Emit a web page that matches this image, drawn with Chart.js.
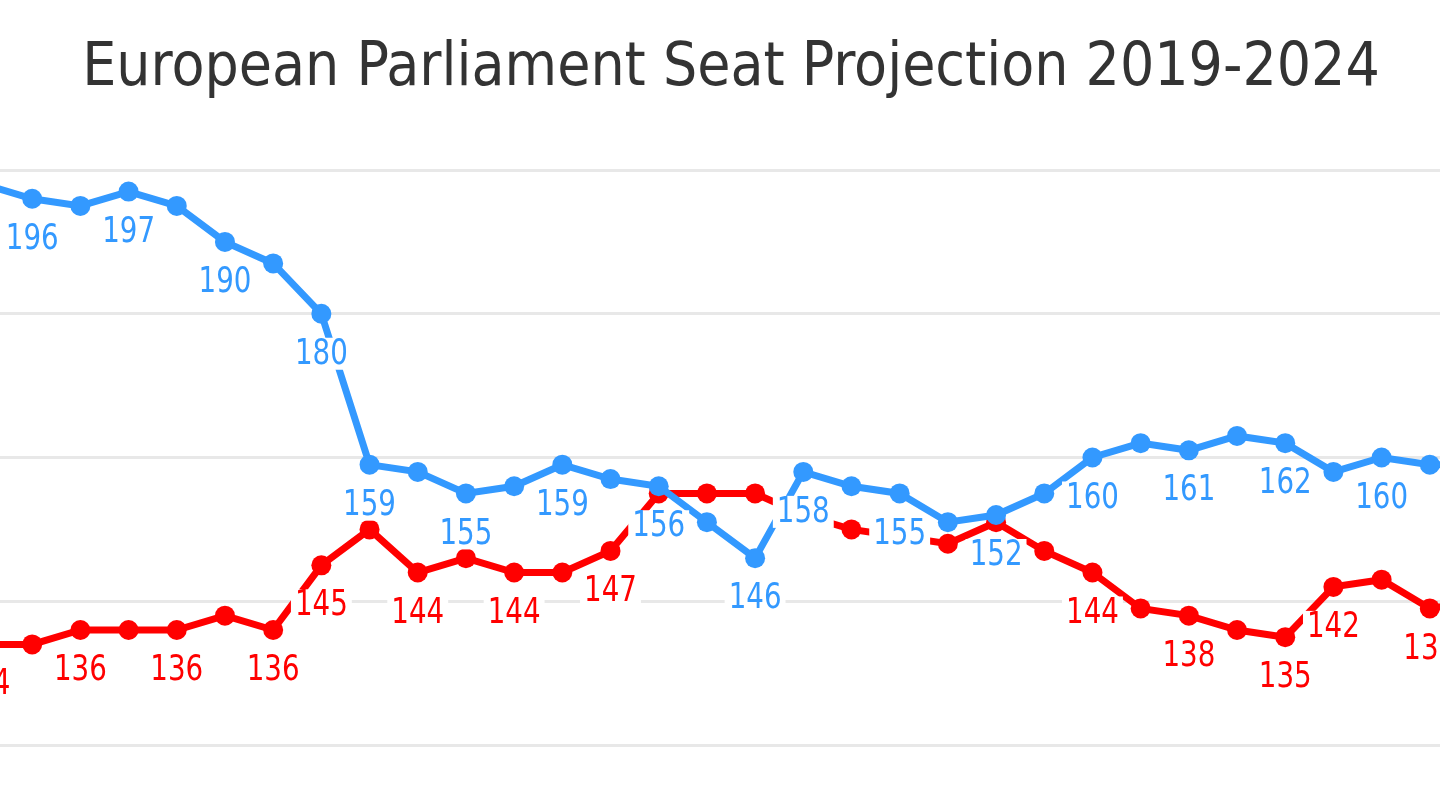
<!DOCTYPE html>
<html>
<head>
<meta charset="utf-8">
<script src="https://cdn.jsdelivr.net/npm/chart.js@4.4.0/dist/chart.umd.min.js"></script>
<style>
    html, body { margin: 0; padding: 0; background: #fff; overflow: hidden; }
    #wrap { position: absolute; left: -80px; top: 0; width: 1584px; height: 810px; }
</style>
</head>
<body>
<div id="wrap"><canvas id="seatChart"></canvas></div>
<script>
// Poll rounds (only a slice of the series is visible in the frame)
const polls = ['P1', 'P2', 'P3', 'P4', 'P5', 'P6', 'P7', 'P8', 'P9', 'P10',
    'P11', 'P12', 'P13', 'P14', 'P15', 'P16', 'P17', 'P18', 'P19', 'P20',
    'P21', 'P22', 'P23', 'P24', 'P25', 'P26', 'P27', 'P28', 'P29', 'P30',
    'P31', 'P32'];

const bluSeats = [198, 196, 195, 197, 195, 190, 187, 180, 159, 158,
    155, 156, 159, 157, 156, 151, 146, 158, 156, 155,
    151, 152, 155, 160, 162, 161, 163, 162, 158, 160,
    159, 159];

const redSeats = [134, 134, 136, 136, 136, 138, 136, 145, 150, 144,
    146, 144, 144, 147, 155, 155, 155, 152, 150, 149,
    148, 151, 147, 144, 139, 138, 136, 135, 142, 143,
    139, 140];

// which points carry a value label
const bluLabelled = [1, 3, 5, 7, 8, 10, 12, 14, 16, 17, 19, 21, 23, 25, 27, 29, 31];
const redLabelled = [0, 2, 4, 6, 7, 9, 11, 13, 23, 25, 27, 28, 30];

const yTicks = [120, 140, 160, 180, 200];

const FONT = '"DejaVu Sans Condensed", "Liberation Sans Narrow", sans-serif';

// Value labels with a white box, drawn over both lines
const valueLabels = {
    id: 'valueLabels',
    afterDatasetsDraw(chart) {
        const ctx = chart.ctx;
        const sx = 0.88;
        ctx.save();
        ctx.font = '35px ' + FONT;
        ctx.textAlign = 'center';
        ctx.textBaseline = 'middle';
        const sets = [[0, bluLabelled], [1, redLabelled]];
        sets.forEach(([di, list]) => {
            const ds = chart.data.datasets[di];
            const meta = chart.getDatasetMeta(di);
            list.forEach(i => {
                const pt = meta.data[i];
                if (!pt) return;
                const txt = String(ds.data[i]);
                const w = ctx.measureText(txt).width * sx + 8;
                const h = 32;
                const cx = pt.x, cy = pt.y + 40;
                ctx.fillStyle = '#ffffff';
                ctx.fillRect(cx - w / 2, cy - h / 2, w, h);
                ctx.save();
                ctx.translate(cx, cy + 1);
                ctx.scale(sx, 1);
                ctx.fillStyle = ds.borderColor;
                ctx.fillText(txt, 0, 0);
                ctx.restore();
            });
        });
        ctx.restore();
    }
};

const seatCtx = document.getElementById('seatChart').getContext('2d');
const seatChart = new Chart(seatCtx, {
    type: 'line',
    data: {
        labels: polls,
        datasets: [{
            label: 'Blue group',
            data: bluSeats,
            borderColor: '#3399ff',
            backgroundColor: '#3399ff',
            borderWidth: 7,
            pointRadius: 10,
            pointBorderWidth: 0,
            tension: 0
        }, {
            label: 'Red group',
            data: redSeats,
            borderColor: '#ff0000',
            backgroundColor: '#ff0000',
            borderWidth: 7,
            pointRadius: 10,
            pointBorderWidth: 0,
            tension: 0
        }]
    },
    options: {
        responsive: true,
        maintainAspectRatio: false,
        animation: false,
        layout: { padding: { left: 64, right: 26, top: 0, bottom: 57 } },
        plugins: {
            legend: { display: false },
            tooltip: { enabled: false },
            title: {
                display: true,
                text: 'European Parliament Seat Projection 2019-2024',
                color: '#333333',
                font: { family: FONT, size: 60, weight: 'normal' },
                padding: { top: 33, bottom: 65 }
            }
        },
        scales: {
            x: {
                ticks: { display: false },
                grid: { display: false },
                border: { display: false }
            },
            y: {
                min: yTicks[0],
                max: yTicks[yTicks.length - 1],
                afterBuildTicks: axis => { axis.ticks = yTicks.map(v => ({ value: v })); },
                ticks: { display: false },
                grid: { color: '#e8e8e8', lineWidth: 3, drawTicks: false },
                border: { display: false }
            }
        }
    },
    plugins: [valueLabels]
});
</script>
</body>
</html>
